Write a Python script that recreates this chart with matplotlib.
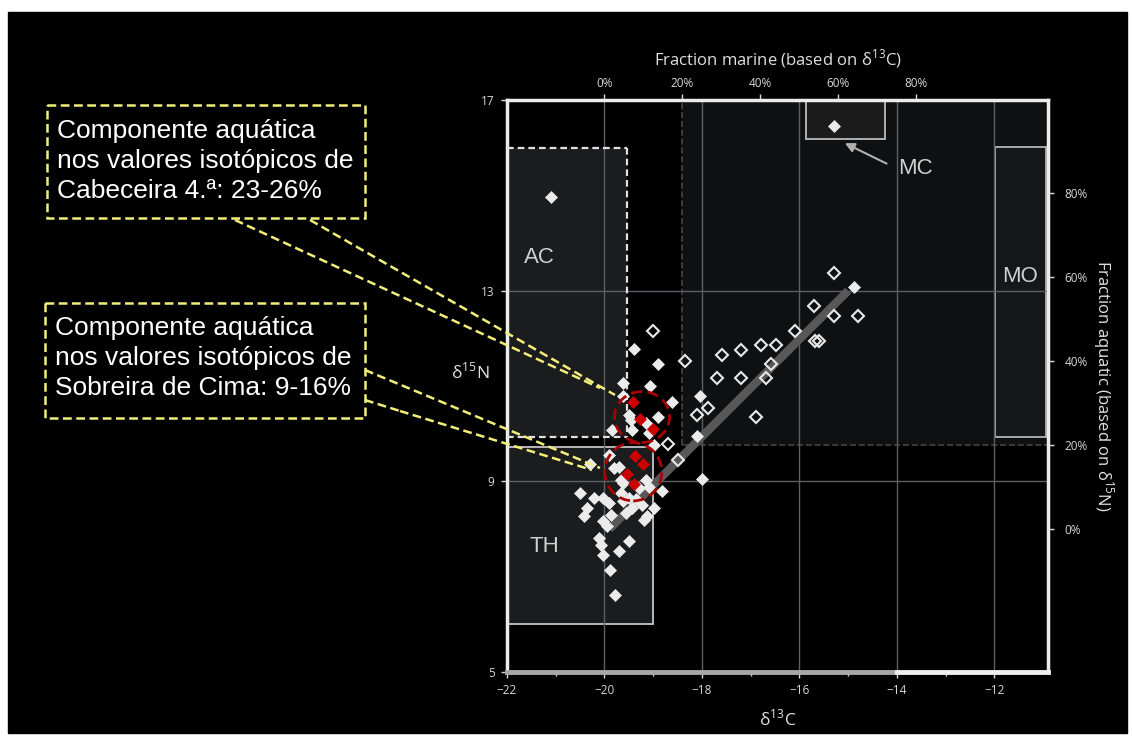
import matplotlib.pyplot as plt
from matplotlib.patches import Rectangle, Ellipse

plt.rcParams['font.family'] = ['Open Sans', 'DejaVu Sans']
plt.rcParams['mathtext.fontset'] = 'custom'
plt.rcParams['mathtext.rm'] = 'Open Sans'

# --- data (d13C, d15N) ---
filled_x = [-21.10, -15.30, -14.89, -18.04, -18.10, -17.99, -18.90, -18.61, -19.06, -18.90,
            -18.81, -19.39, -19.63, -19.62, -19.85, -20.30, -19.43, -19.49, -19.08, -18.98,
            -19.91, -19.80, -20.51, -19.67, -20.21, -20.04, -19.91, -19.63, -19.43, -19.22,
            -18.98, -20.35, -20.42, -19.87, -19.56, -19.12, -20.04, -19.19, -19.94, -20.11,
            -20.08, -19.49, -19.70, -20.04, -19.88, -19.78, -19.29, -19.08, -19.46, -19.15,
            -19.70, -19.15, -19.63, -19.67, -19.50, -19.35]
filled_y = [14.97, 16.45, 13.07, 10.79, 9.95, 9.05, 11.47, 10.66, 11.01, 10.34,
            8.79, 11.77, 11.07, 10.78, 10.08, 9.36, 10.08, 10.40, 10.01, 9.77,
            9.56, 9.27, 8.75, 9.03, 8.65, 8.65, 8.55, 8.58, 8.44, 8.51,
            8.44, 8.44, 8.27, 8.30, 8.34, 8.27, 8.16, 8.19, 8.06, 7.81,
            7.67, 7.74, 7.53, 7.46, 7.13, 6.62, 8.86, 8.89, 10.29, 10.22,
            9.31, 9.03, 8.96, 8.76, 8.65, 8.62]

open_x = [-15.29, -15.70, -15.29, -14.79, -16.10, -15.68, -15.59, -19.00, -18.34, -17.59,
          -17.19, -16.79, -16.49, -16.59, -17.69, -17.19, -16.69, -16.90, -18.10, -17.87,
          -18.70, -18.49]
open_y = [13.37, 12.67, 12.46, 12.46, 12.16, 11.95, 11.95, 12.16, 11.52, 11.66,
          11.76, 11.86, 11.86, 11.46, 11.16, 11.16, 11.16, 10.35, 10.40, 10.54,
          9.78, 9.44]

red_x = [-19.41, -19.27, -19.00, -19.38, -19.21, -19.54, -19.39]
red_y = [10.66, 10.31, 10.10, 9.54, 9.36, 9.16, 8.94]

trend_x = [-19.9, -15.0]
trend_y = [8.0, 13.0]

marine_ticks = [0, 20, 40, 60, 80]
aquatic_ticks = [0, 20, 40, 60, 80]

note_top = "Componente aquática\nnos valores isotópicos de\nCabeceira 4.ª: 23-26%"
note_bottom = "Componente aquática\nnos valores isotópicos de\nSobreira de Cima: 9-16%"

fig = plt.figure(figsize=(11.32, 7.37), dpi=100, facecolor='white')
fig.patches.append(Rectangle((8 / 1132, 4 / 737), 1119 / 1132, 721 / 737,
                             transform=fig.transFigure, color='black', zorder=-10))

ax = fig.add_axes([507 / 1132, 1 - 672 / 737, 541 / 1132, 572 / 737], zorder=2)
ax.set_facecolor('black')
ax.set_xlim(-22, -10.9)
ax.set_ylim(5, 17)

# shaded zones
ax.add_patch(Rectangle((-18.4, 9.76), 7.6, 7.3, fc='#0f1011', ec='none', zorder=0))
ax.add_patch(Rectangle((-22, 9.92), 2.46, 6.08, fc='#1b1c1d', ec='none', zorder=0.5))
ax.add_patch(Rectangle((-22, 6.0), 3.0, 3.72, fc='#1b1c1d', ec='#b8b8b8', lw=1.4, zorder=0.6))
ax.add_patch(Rectangle((-15.86, 16.18), 1.62, 0.9, fc='#1b1b1b', ec='#b0b0b0', lw=1.4, zorder=0.6))
ax.add_patch(Rectangle((-11.98, 9.93), 1.03, 6.08, fc='#161718', ec='#a8a8a8', lw=1.4, zorder=0.6))

dash_kw = dict(color='#e0e0e0', lw=1.6, ls=(0, (3, 1.8)), zorder=3)
ax.plot([-22, -19.54], [16, 16], **dash_kw)
ax.plot([-19.54, -19.54], [16, 9.92], **dash_kw)
ax.plot([-22, -19.54], [9.92, 9.92], **dash_kw)

ax.plot([-18.4, -18.4], [9.76, 17], color='#444444', lw=1.2, ls='--', zorder=1)
ax.plot([-18.4, -10.9], [9.76, 9.76], color='#444444', lw=1.2, ls='--', zorder=1)

for gx in [-20, -18, -16, -14, -12]:
    ax.axvline(gx, color='#5c6064', lw=1, zorder=2)
for gy in [13, 9]:
    ax.axhline(gy, color='#5c6064', lw=1, zorder=2)

ax.plot(trend_x, trend_y, color='#585858', lw=6, solid_capstyle='butt', zorder=3)

ax.plot(open_x, open_y, 'D', ms=6.2, mfc='none', mec='#e8e8e8', mew=1.5, ls='none', zorder=4)
ax.plot(filled_x, filled_y, 'D', ms=6.4, mfc='#ebebeb', mec='#ebebeb', mew=0.5, ls='none', zorder=4)
ax.plot(red_x, red_y, 'D', ms=6.4, mfc='#cc0000', mec='#cc0000', mew=0.5, ls='none', zorder=5)

for cx, cy, w, h in [(-19.23, 10.35, 1.13, 1.07), (-19.41, 9.2, 1.17, 1.22)]:
    ax.add_patch(Ellipse((cx, cy), w, h, fill=False, ec='#a80000', lw=2,
                         ls=(0, (4, 2)), zorder=6))

lab_kw = dict(color='#d0d0d0', fontsize=16, family=['Liberation Sans'],
              ha='center', va='center', zorder=6)
ax.text(-21.34, 13.69, 'AC', **lab_kw)
ax.text(-21.24, 7.63, 'TH', **lab_kw)
ax.text(-11.47, 13.29, 'MO', **lab_kw)
ax.text(-13.62, 15.57, 'MC', **lab_kw)
ax.annotate('', xy=(-15.12, 16.12), xytext=(-14.16, 15.64),
            arrowprops=dict(arrowstyle='-|>', color='#b0b0b0', lw=1.5, mutation_scale=14),
            zorder=6)

# axes styling
for side in ['left', 'top', 'right']:
    ax.spines[side].set_color('#ececec')
    ax.spines[side].set_linewidth(2.5)
ax.spines['bottom'].set_visible(False)
ax.plot([-22, -14], [5, 5], color='#a8a8a8', lw=3.5, clip_on=False, zorder=7)
ax.plot([-14, -10.9], [5, 5], color='#eeeeee', lw=3.5, clip_on=False, zorder=7)

ax.set_xticks([-22, -20, -18, -16, -14, -12])
ax.set_xticks([-21, -19, -17, -15, -13], minor=True)
ax.set_yticks([5, 9, 13, 17])
ax.tick_params(colors='#d8d8d8', labelsize=8.5, length=4, width=1, pad=5)
ax.tick_params(which='minor', colors='#d8d8d8', length=3, width=1)
ax.set_xlabel(r'δ$^{13}$C', color='#e0e0e0', fontsize=12.5, labelpad=8)
ax.text(-22.75, 11.3, r'δ$^{15}$N', color='#e0e0e0', fontsize=12.5, ha='center', va='center')

top = ax.secondary_xaxis('top', functions=(lambda x: (x + 20) / 8 * 100,
                                           lambda m: m / 100 * 8 - 20))
top.set_xticks(marine_ticks)
top.set_xticklabels([f'{t}%' for t in marine_ticks])
top.tick_params(colors='#d8d8d8', labelsize=8.5, length=4, width=1, pad=3)
top.set_xlabel(r'Fraction marine (based on δ$^{13}$C)', color='#e0e0e0', fontsize=12, labelpad=9)
top.spines['top'].set_visible(False)

right = ax.secondary_yaxis('right', functions=(lambda y: (y - 8.0) / 8.8 * 100,
                                               lambda a: a / 100 * 8.8 + 8.0))
right.set_yticks(aquatic_ticks)
right.set_yticklabels([f'{t}%' for t in aquatic_ticks])
right.tick_params(colors='#d8d8d8', labelsize=8.5, length=4, width=1, pad=8)
right.set_ylabel(r'Fraction aquatic (based on δ$^{15}$N)', color='#e0e0e0', fontsize=12,
                 rotation=270, labelpad=20)
right.spines['right'].set_visible(False)

# callouts, in figure pixels
ov = fig.add_axes([0, 0, 1, 1], zorder=10)
ov.set_xlim(0, 1132)
ov.set_ylim(737, 0)
ov.set_axis_off()
yel = '#f2ee7a'
yk = dict(color=yel, lw=1.8, ls=(0, (3.5, 1.8)))
ov.add_patch(Rectangle((47, 105), 318, 113, fill=False, ec=yel, lw=1.8, ls=(0, (3.5, 1.8))))
ov.add_patch(Rectangle((45, 303), 320, 115, fill=False, ec=yel, lw=1.8, ls=(0, (3.5, 1.8))))
ov.plot([310, 615], [220, 395], **yk)
ov.plot([235, 600], [220, 388], **yk)
ov.plot([365, 600], [370, 468], **yk)
ov.plot([365, 400], [400, 411], **yk)
ov.plot([400, 592], [411, 470], **yk)
tk = dict(color='white', fontsize=19, family=['Liberation Sans'], ha='left', va='center',
          linespacing=1.3)
ov.text(57, 161, note_top, **tk)
ov.text(55, 358, note_bottom, **tk)

fig.savefig('out.png', dpi=100, facecolor='white')
